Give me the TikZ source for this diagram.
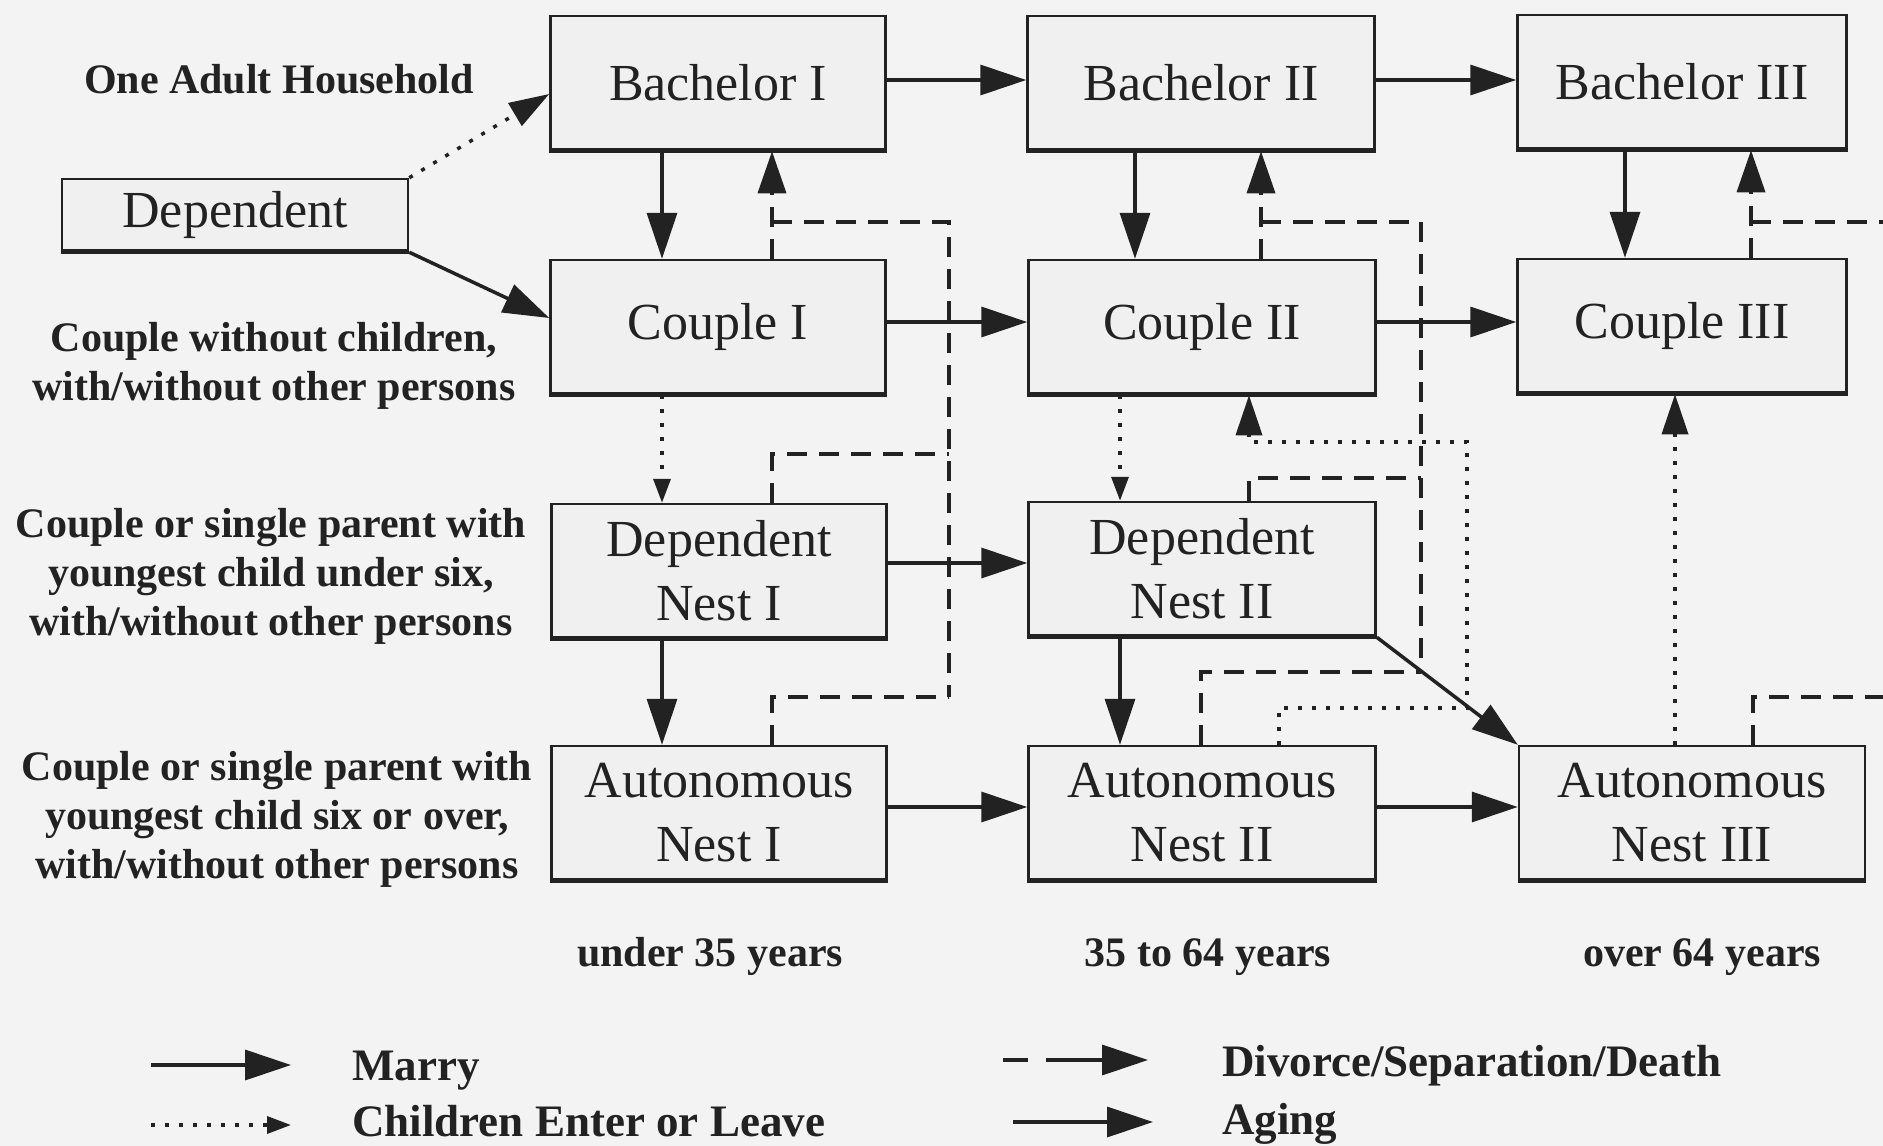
\documentclass[tikz,border=0pt]{standalone}
\usepackage{fontspec}
\setmainfont{Liberation Serif}
\usetikzlibrary{arrows.meta}
\definecolor{bgcol}{HTML}{F3F3F3}
\definecolor{boxcol}{HTML}{F0F0F0}
\definecolor{inkcol}{HTML}{222222}
\newcommand\bxfont{\fontsize{52}{64}\selectfont}
\newcommand\lbfont{\fontsize{42}{49}\selectfont\bfseries}
\newcommand\lgfont{\fontsize{45}{50}\selectfont\bfseries}
\tikzset{
  box/.style={draw=inkcol, line width=2.5pt, fill=boxcol, minimum height=134pt,
    inner sep=0pt, align=center, font=\bxfont, text=inkcol},
  lab/.style={font=\lbfont, align=center, text=inkcol, inner sep=0pt},
  leg/.style={font=\lgfont, text=inkcol, inner sep=0pt, anchor=base west},
  conn/.style={line width=3.5pt, draw=inkcol},
  solidarr/.style={conn, -{Triangle[length=46pt,width=30pt]}},
  dasharr/.style={conn, dash pattern=on 20pt off 12pt, -{Triangle[length=42pt,width=28pt]}},
  dashln/.style={conn, dash pattern=on 20pt off 12pt},
  dotarr/.style={conn, dash pattern=on 4pt off 10pt, -{Triangle[length=40pt,width=26pt]}},
  dotarrsm/.style={conn, dash pattern=on 4pt off 10pt, -{Triangle[length=24pt,width=17pt]}},
  dotln/.style={conn, dash pattern=on 4pt off 10pt},
}
\begin{document}
\begin{tikzpicture}[x=1pt,y=-1pt]
\fill[bgcol] (0,0) rectangle (1883,1146);
\useasboundingbox (0,0) rectangle (1883,1146);

% boxes
\node[box, minimum width=335pt] (B1) at (718,83) {Bachelor I};
\node[box, minimum width=347pt] (B2) at (1201,83) {Bachelor II};
\node[box, minimum width=329pt] (B3) at (1682,82) {Bachelor III};
\node[box, minimum width=346pt, minimum height=72pt] (Dep) at (235,215) {Dependent};
\node[box, minimum width=335pt] (C1) at (718,327) {Couple I};
\node[box, minimum width=347pt] (C2) at (1202,327) {Couple II};
\node[box, minimum width=329pt] (C3) at (1682,326) {Couple III};
\node[box, minimum width=335pt] (DN1) at (719,571) {Dependent\\Nest I};
\node[box, minimum width=347pt] (DN2) at (1202,569) {Dependent\\Nest II};
\node[box, minimum width=335pt] (AN1) at (719,813) {Autonomous\\Nest I};
\node[box, minimum width=347pt] (AN2) at (1202,813) {Autonomous\\Nest II};
\node[box, minimum width=346pt] (AN3) at (1692,813) {Autonomous\\Nest III};
\foreach \n in {B1,B2,B3,Dep,C1,C2,C3,DN1,DN2,AN1,AN2,AN3}
  \draw[inkcol, line width=5pt] ([yshift=1pt]\n.south west) -- ([yshift=1pt]\n.south east);

% horizontal (aging / marry) arrows
\draw[solidarr] ([yshift=3pt]B1.east) -- ([yshift=3pt]B2.west);
\draw[solidarr] ([yshift=3pt]B2.east) -- ([yshift=2pt]B3.west);
\draw[solidarr] ([yshift=5pt]C1.east) -- ([yshift=5pt]C2.west);
\draw[solidarr] ([yshift=5pt]C2.east) -- ([yshift=4pt]C3.west);
\draw[solidarr] ([yshift=8pt]DN1.east) -- ([yshift=6pt]DN2.west);
\draw[solidarr] ([yshift=6pt]AN1.east) -- ([yshift=6pt]AN2.west);
\draw[solidarr] ([yshift=6pt]AN2.east) -- ([yshift=6pt]AN3.west);

% dependent
\draw[dotarr] (Dep.north east) -- ([yshift=-11pt]B1.west);
\draw[solidarr] (Dep.south east) -- ([yshift=9pt]C1.west);

% column I
\draw[solidarr] ([xshift=-56pt]B1.south) -- ([xshift=-56pt]C1.north);
\draw[dasharr] ([xshift=54pt]C1.north) -- ([xshift=54pt]B1.south);
\draw[dotarrsm] ([xshift=-56pt]C1.south) -- ([xshift=-57pt]DN1.north);
\draw[solidarr] ([xshift=-57pt]DN1.south) -- ([xshift=-57pt]AN1.north);
\coordinate (j1a) at (772,222);
\coordinate (j1b) at (949,222);
\coordinate (j1c) at (949,454);
\coordinate (j1d) at (949,697);
\draw[dashln] (j1a) -- (j1b) -- (j1d);
\draw[dashln] ([xshift=53pt]DN1.north) |- (j1c);
\draw[dashln] ([xshift=53pt]AN1.north) |- (j1d);

% column II
\draw[solidarr] ([xshift=-66pt]B2.south) -- ([xshift=-67pt]C2.north);
\draw[dasharr] ([xshift=59pt]C2.north) -- ([xshift=60pt]B2.south);
\draw[dotarrsm] ([xshift=-82pt]C2.south) -- ([xshift=-82pt]DN2.north);
\draw[solidarr] ([xshift=-82pt]DN2.south) -- ([xshift=-82pt]AN2.north);
\coordinate (j2a) at (1261,222);
\coordinate (j2b) at (1421,222);
\coordinate (j2c) at (1421,478);
\coordinate (j2d) at (1421,672);
\draw[dashln] (j2a) -- (j2b) -- (j2d);
\draw[dashln] ([xshift=47pt]DN2.north) |- (j2c);
\draw[dashln] ([xshift=-1pt]AN2.north) |- (j2d);
\coordinate (k2b) at (1467,708);
\coordinate (k2c) at (1467,442);
\coordinate (k2d) at (1249,442);
\draw[dotarr] ([xshift=77pt]AN2.north) |- (k2b) -- (k2c) -- (k2d) -- ([xshift=47pt]C2.south);
\draw[solidarr] (DN2.south east) -- (AN3.north west);

% column III
\draw[solidarr] ([xshift=-57pt]B3.south) -- ([xshift=-57pt]C3.north);
\draw[dasharr] ([xshift=69pt]C3.north) -- ([xshift=69pt]B3.south);
\coordinate (j3a) at (1751,222);
\coordinate (j3b) at (1883,222);
\draw[dashln] (j3a) -- (j3b);
\coordinate (j3c) at (1883,697);
\draw[dashln] ([xshift=61pt]AN3.north) |- (j3c);
\draw[dotarr] ([xshift=-17pt]AN3.north) -- ([xshift=-7pt]C3.south);

% row labels
\node[lab, anchor=base] (lOne) at (279,93) {One Adult Household};
\node[lab] (lCpl) at (274,366) {Couple without children,\\with/without other persons};
\node[lab] (lDN) at (271,576) {Couple or single parent with\\youngest child under six,\\with/without other persons};
\node[lab] (lAN) at (277,819) {Couple or single parent with\\youngest child six or over,\\with/without other persons};

% age labels
\node[lab, anchor=base] (age1) at (710,966) {under 35 years};
\node[lab, anchor=base] (age2) at (1208,966) {35 to 64 years};
\node[lab, anchor=base] (age3) at (1702,966) {over 64 years};

% legend
\coordinate (lm1) at (151,1065); \coordinate (lm2) at (291,1065);
\draw[solidarr] (lm1) -- (lm2);
\node[leg] (tm) at (352,1080) {Marry};
\coordinate (lc1) at (151,1125); \coordinate (lc2) at (291,1125);
\draw[dotarrsm] (lc1) -- (lc2);
\node[leg] (tc) at (352,1136) {Children Enter or Leave};
\coordinate (ld1) at (1003,1060); \coordinate (ld2) at (1148,1060);
\draw[conn, dash pattern=on 25pt off 18pt on 300pt off 1pt, -{Triangle[length=46pt,width=30pt]}] (ld1) -- (ld2);
\node[leg] (td) at (1222,1076) {Divorce/Separation/Death};
\coordinate (la1) at (1013,1122); \coordinate (la2) at (1153,1122);
\draw[solidarr] (la1) -- (la2);
\node[leg] (ta) at (1222,1134) {Aging};
\end{tikzpicture}
\end{document}
